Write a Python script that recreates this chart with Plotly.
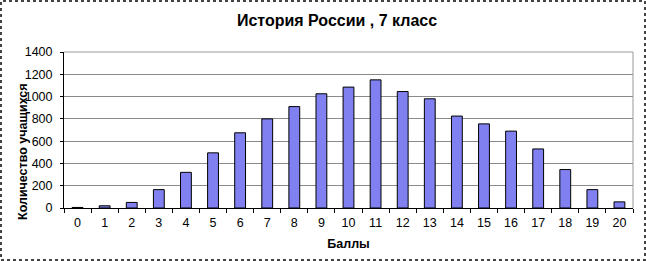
import plotly.graph_objects as go

scores = [str(i) for i in range(21)]
students = [5, 20, 50, 165, 320, 495, 675, 800, 910, 1025, 1085, 1150,
            1045, 980, 825, 755, 690, 530, 345, 165, 55]
y_ticks = [0, 200, 400, 600, 800, 1000, 1200, 1400]

title_text = "История России , 7 класс"
x_title = "Баллы"
y_title = "Количество учащихся"

W, H = 646, 261
ML, MR, MT, MB = 64, 13, 52, 53
PW, PH = W - ML - MR, H - MT - MB

FONT = "Liberation Sans, Arial, sans-serif"

fig = go.Figure(go.Bar(
    x=scores, y=students,
    marker=dict(color="#8080f0", line=dict(color="#000000", width=1)),
    width=0.4,
))

fig.update_layout(
    width=W, height=H,
    margin=dict(l=ML, r=MR, t=MT, b=MB),
    paper_bgcolor="white", plot_bgcolor="white",
    font=dict(family=FONT, size=12.5, color="#000"),
    showlegend=False,
    title=dict(text="<b>" + title_text + "</b>", x=337 / W, xanchor="center",
               y=1 - 20 / H, yanchor="middle", font=dict(size=16, family=FONT)),
    xaxis=dict(
        type="category", showline=True, linecolor="#000", linewidth=1,
        ticks="outside", tickson="boundaries", ticklen=4, tickcolor="#000",
        showgrid=False, tickfont=dict(size=12.5), ticklabelstandoff=3,
        title=dict(text="<b>" + x_title + "</b>", font=dict(size=12.5), standoff=10),
    ),
    yaxis=dict(
        range=[0, 1400], tickvals=y_ticks, showline=True, linecolor="#000",
        linewidth=1, ticks="outside", ticklen=3, tickcolor="#000",
        showgrid=True, gridcolor="#8a8a8a", gridwidth=1,
        tickfont=dict(size=12.5), zeroline=False, ticklabelstandoff=5,
    ),
)

# plot area frame (top/right, light gray)
fig.add_shape(type="line", xref="paper", yref="paper", x0=0, x1=1, y0=1, y1=1,
              line=dict(color="#9a9a9a", width=1))
fig.add_shape(type="line", xref="paper", yref="paper", x0=1, x1=1, y0=0, y1=1,
              line=dict(color="#9a9a9a", width=1))

# y axis title as annotation
fig.add_annotation(text="<b>" + y_title + "</b>", textangle=-90,
                   xref="paper", yref="paper",
                   x=(23 - ML) / PW, y=(H - MB - 152) / PH,
                   xanchor="center", yanchor="middle", showarrow=False,
                   font=dict(size=12.5, family=FONT))

# outer dotted frame
fig.add_shape(type="rect", xref="paper", yref="paper",
              x0=(1 - ML) / PW, x1=(W - 1 - ML) / PW,
              y0=(H - MB - (H - 1)) / PH, y1=(H - MB - 1) / PH,
              line=dict(color="#444", width=2, dash="dot"))

fig.write_html("out.html")
